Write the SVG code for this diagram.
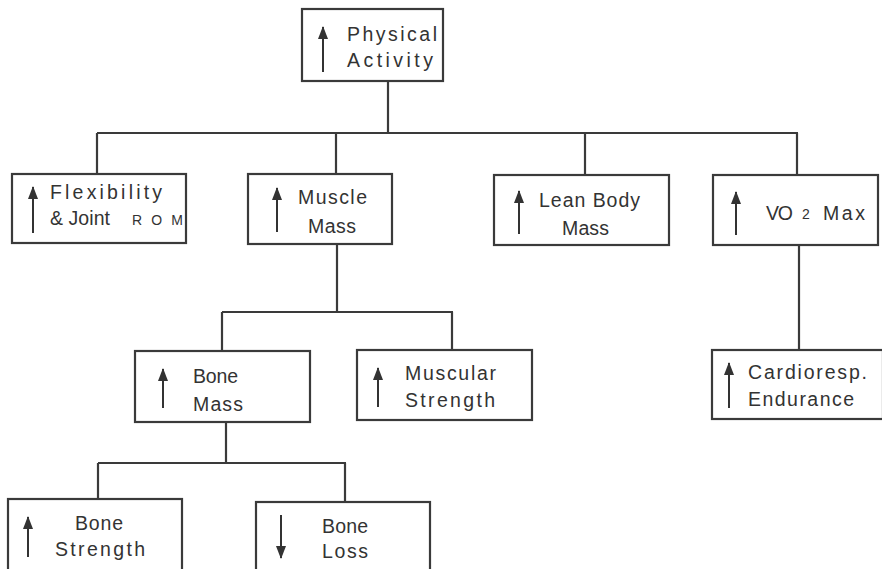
<svg xmlns="http://www.w3.org/2000/svg" width="882" height="569" viewBox="0 0 882 569">
<style>
.box{fill:#fff;stroke:#3a3a3a;stroke-width:2.2}
.conn{fill:none;stroke:#3a3a3a;stroke-width:2.2}
.arr{stroke:#333;stroke-width:2;fill:none}
.t{font-family:"Liberation Sans",Arial,sans-serif;font-size:19.5px;fill:#333}
.s{font-size:14px}
</style>
<defs>
<marker id="ah" markerUnits="userSpaceOnUse" markerWidth="13" markerHeight="10" viewBox="0 0 13 10" refX="12" refY="5" orient="auto">
<path d="M0,0 L13,5 L0,10 z" fill="#333"/>
</marker>
</defs>
<rect width="882" height="569" fill="#fff"/>
<g id="connectors">
<path class="conn" d="M388,81 V133 M97,133 H798 M97,133 V174 M336,133 V174 M585,133 V175 M797,133 V175"/>
<path class="conn" d="M337,244 V312 M222,312 H453 M222,312 V351 M452,312 V350"/>
<path class="conn" d="M799,245 V350"/>
<path class="conn" d="M226,422 V463 M98,463 H346 M98,463 V499 M345,463 V502"/>
</g>
<g id="physical-activity">
<rect class="box" x="302" y="9" width="141" height="72"/>
<line class="arr" x1="323" y1="72" x2="323" y2="27" marker-end="url(#ah)"/>
<text class="t" x="347" y="41" textLength="90">Physical</text>
<text class="t" x="347" y="67" textLength="86">Activity</text>
</g>
<g id="flexibility">
<rect class="box" x="12" y="174" width="174" height="69"/>
<line class="arr" x1="33" y1="233" x2="33" y2="187" marker-end="url(#ah)"/>
<text class="t" x="50" y="199" textLength="112">Flexibility</text>
<text class="t" x="50" y="225" textLength="60">&amp; Joint</text>
<text class="t s" x="132" y="225" textLength="51">R O M</text>
</g>
<g id="muscle-mass">
<rect class="box" x="248" y="174" width="144" height="70"/>
<line class="arr" x1="277" y1="232" x2="277" y2="188" marker-end="url(#ah)"/>
<text class="t" x="298" y="204" textLength="69">Muscle</text>
<text class="t" x="308" y="233" textLength="48">Mass</text>
</g>
<g id="lean-body-mass">
<rect class="box" x="494" y="175" width="175" height="70"/>
<line class="arr" x1="519" y1="234" x2="519" y2="191" marker-end="url(#ah)"/>
<text class="t" x="539" y="207" textLength="101">Lean Body</text>
<text class="t" x="562" y="235" textLength="47">Mass</text>
</g>
<g id="vo2-max">
<rect class="box" x="713" y="175" width="165" height="70"/>
<line class="arr" x1="736" y1="235" x2="736" y2="192" marker-end="url(#ah)"/>
<text class="t" x="766" y="220" textLength="27">VO</text>
<text class="t s" x="802" y="219">2</text>
<text class="t" x="823" y="220" textLength="42">Max</text>
</g>
<g id="bone-mass">
<rect class="box" x="135" y="351" width="175" height="71"/>
<line class="arr" x1="163" y1="408" x2="163" y2="369" marker-end="url(#ah)"/>
<text class="t" x="193" y="383" textLength="45">Bone</text>
<text class="t" x="193" y="411" textLength="50">Mass</text>
</g>
<g id="muscular-strength">
<rect class="box" x="357" y="350" width="175" height="70"/>
<line class="arr" x1="378" y1="407" x2="378" y2="368" marker-end="url(#ah)"/>
<text class="t" x="405" y="380" textLength="91">Muscular</text>
<text class="t" x="405" y="407" textLength="90">Strength</text>
</g>
<g id="cardioresp-endurance">
<rect class="box" x="712" y="350" width="171" height="69"/>
<line class="arr" x1="729" y1="408" x2="729" y2="363" marker-end="url(#ah)"/>
<text class="t" x="748" y="379" textLength="119">Cardioresp.</text>
<text class="t" x="748" y="406" textLength="106">Endurance</text>
</g>
<g id="bone-strength">
<rect class="box" x="8" y="499" width="174" height="80"/>
<line class="arr" x1="28" y1="557" x2="28" y2="517" marker-end="url(#ah)"/>
<text class="t" x="75" y="530" textLength="48">Bone</text>
<text class="t" x="55" y="556" textLength="90">Strength</text>
</g>
<g id="bone-loss">
<rect class="box" x="256" y="502" width="174" height="80"/>
<line class="arr" x1="281" y1="515" x2="281" y2="558" marker-end="url(#ah)"/>
<text class="t" x="322" y="533" textLength="46">Bone</text>
<text class="t" x="322" y="558" textLength="46">Loss</text>
</g>
</svg>
